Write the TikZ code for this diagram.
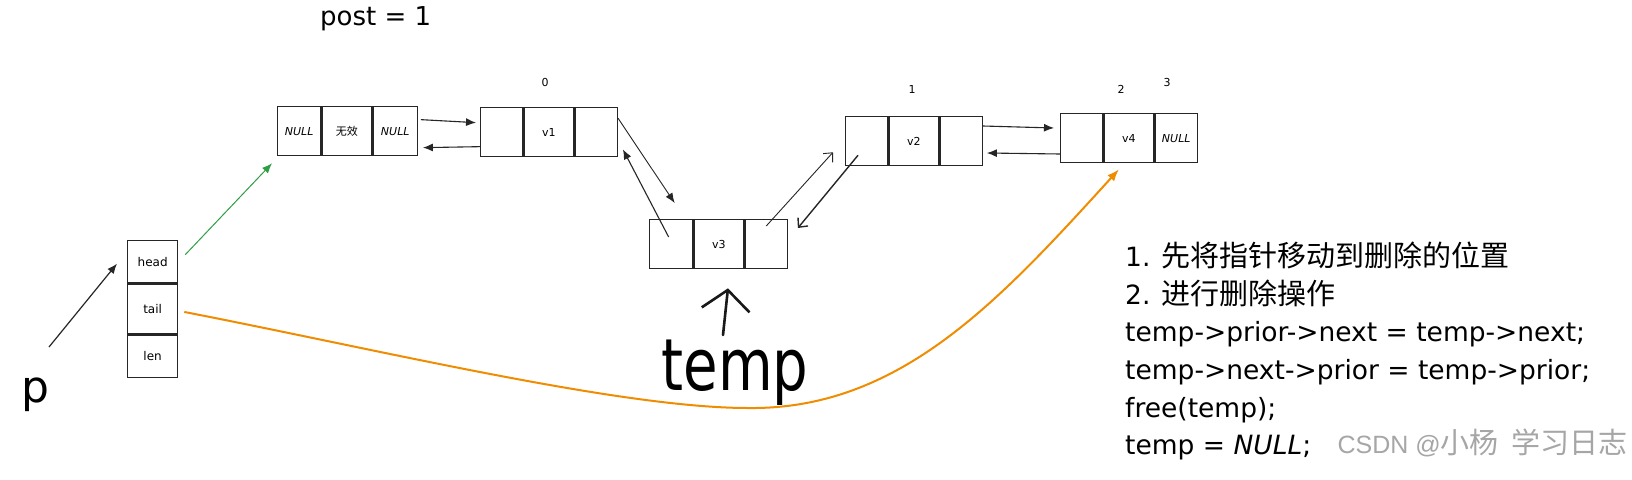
\documentclass[tikz,border=0pt]{standalone}
\usepackage{fontspec}
\usepackage{graphicx}
\setmainfont{DejaVu Sans}
\newfontfamily\cjk{Noto Sans CJK SC}
\newfontfamily\wm{Liberation Sans}
\usetikzlibrary{arrows.meta,calc}
\newcommand{\fsz}[1]{\fontsize{#1}{#1}\selectfont}
\tikzset{
  cell/.style={draw=black!85, line width=1.3pt, inner sep=0pt, minimum height=49pt, anchor=north west, font=\fsz{11}},
  lw/.style={cell, minimum width=42pt},
  mw/.style={cell, minimum width=50pt},
  idx/.style={font=\fsz{11}, inner sep=0pt},
  link/.style={draw=black!85, line width=1.1pt, -{Latex[length=10pt,width=8pt]}},
  openlink/.style={draw=black!85, line width=0.9pt, -{Straight Barb[length=7pt,width=13pt]}},
  hand/.style={inner sep=0pt, anchor=base},
}
\begin{document}
\begin{tikzpicture}[x=1pt,y=-1pt]
\useasboundingbox[fill=white] (0,0) rectangle (1632,479);

% title
\node[inner sep=0pt, anchor=base west, font=\fsz{26}] (post) at (320,25) {post = 1};

% header node
\node[cell, minimum width=43pt] (h1) at (277,106) {\textit{NULL}};
\node[mw] (h2) at (h1.north east) {{\cjk 无效}};
\node[cell, minimum width=44pt] (h3) at (h2.north east) {\textit{NULL}};

% v1
\node[lw] (v1a) at (480,107) {};
\node[mw] (v1b) at (v1a.north east) {v1};
\node[lw] (v1c) at (v1b.north east) {};
\node[idx] (i0) at (545,82) {0};

% v3
\node[cell, minimum width=43pt] (v3a) at (649,219) {};
\node[mw] (v3b) at (v3a.north east) {v3};
\node[lw] (v3c) at (v3b.north east) {};

% v2
\node[lw] (v2a) at (845,116) {};
\node[mw] (v2b) at (v2a.north east) {v2};
\node[lw] (v2c) at (v2b.north east) {};
\node[idx] (i1) at (912,89) {1};

% v4
\node[lw] (v4a) at (1060,113) {};
\node[mw] (v4b) at (v4a.north east) {v4};
\node[lw] (v4c) at (v4b.north east) {\textit{NULL}};
\node[idx] (i2) at (1121,89) {2};
\node[idx] (i3) at (1167,82) {3};

% struct
\node[cell, minimum width=50pt, minimum height=42pt, font=\fsz{12}] (s1) at (127,240) {head};
\node[cell, minimum width=50pt, minimum height=50pt, font=\fsz{12}] (s2) at (s1.south west) {tail};
\node[cell, minimum width=50pt, minimum height=42pt, font=\fsz{12}] (s3) at (s2.south west) {len};

% p label
\node[hand, font=\fsz{44}] (plabel) at (35,402) {p};
\coordinate (pstart) at (49,347);
\draw[link, line width=1.2pt] (pstart) -- ([xshift=-10pt,yshift=-2pt]s1.west);

% temp label
\node[hand, font=\fsz{72}] (templabel) at (735,390) {\scalebox{0.78}[1]{temp}};
\coordinate (tstart) at (723,335);
\draw[line width=2.6pt, line cap=round, black!90, -{Straight Barb[length=20pt,width=48pt,line width=2.6pt]}] (tstart) -- ([xshift=9pt,yshift=-19pt]v3b.south);

% links
\draw[link] ([xshift=3pt,yshift=11.5pt]h3.east) -- ([xshift=-4pt,yshift=9.5pt]v1a.west);
\draw[link] ([yshift=-14.5pt]v1a.west) -- ([xshift=5pt,yshift=-16.5pt]h3.east);
\draw[link, line width=0.9pt] ([yshift=-11pt]v1c.north east) -- ([xshift=3.5pt,yshift=16pt]v3a.north);
\draw[link] ([xshift=-2.5pt,yshift=-18pt]v3a.north) -- ([xshift=5pt,yshift=8pt]v1c.south east);
\draw[openlink] ([yshift=-7pt]v3c.north) -- ([xshift=-12pt,yshift=14pt]v2a.south west);
\draw[openlink, line width=1.4pt] ([xshift=13pt,yshift=11pt]v2a.south west) -- ([xshift=10pt,yshift=-9pt]v3c.north east);
\draw[link] ([yshift=-10pt]v2c.north east) -- ([xshift=-6pt,yshift=-15pt]v4a.north west);
\draw[link] ([yshift=-41pt]v4a.north west) -- ([xshift=4pt,yshift=-37pt]v2c.north east);

% green and orange
\draw[draw={rgb,255:red,47;green,158;blue,68}, line width=1pt, -{Latex[length=10pt,width=8pt]}]
  ([xshift=7pt,yshift=7pt]s1.east) -- ([xshift=-5pt,yshift=-7pt]h1.south west);
\draw[draw={rgb,255:red,240;green,140;blue,0}, line width=2pt, -{Latex[length=12pt,width=9pt]}]
  ([xshift=6pt,yshift=-3pt]s2.east) .. controls (380,350) and (620,408) .. (748,408)
  .. controls (900,410) and (1000,300) .. ([xshift=-10pt,yshift=-6pt]v4b.south);

% explanation text
\node[inner sep=0pt, anchor=north west, align=left, font=\fontsize{26.5}{37.6}\selectfont] (expl) at (1125,242)
 {1. {\cjk\fontsize{29}{37.6}\selectfont 先将指针移动到删除的位置}\\
  2. {\cjk\fontsize{29}{37.6}\selectfont 进行删除操作}\\
  temp->prior->next = temp->next;\\
  temp->next->prior = temp->prior;\\
  free(temp);\\
  temp = \textit{NULL};};

% watermark
\node[inner sep=0pt, anchor=base east, text=black!35] (wmark) at (1628,453)
 {{\wm\fsz{25}CSDN @}{\cjk\fsz{29}小杨\ \ 学习日志}};
\end{tikzpicture}
\end{document}
